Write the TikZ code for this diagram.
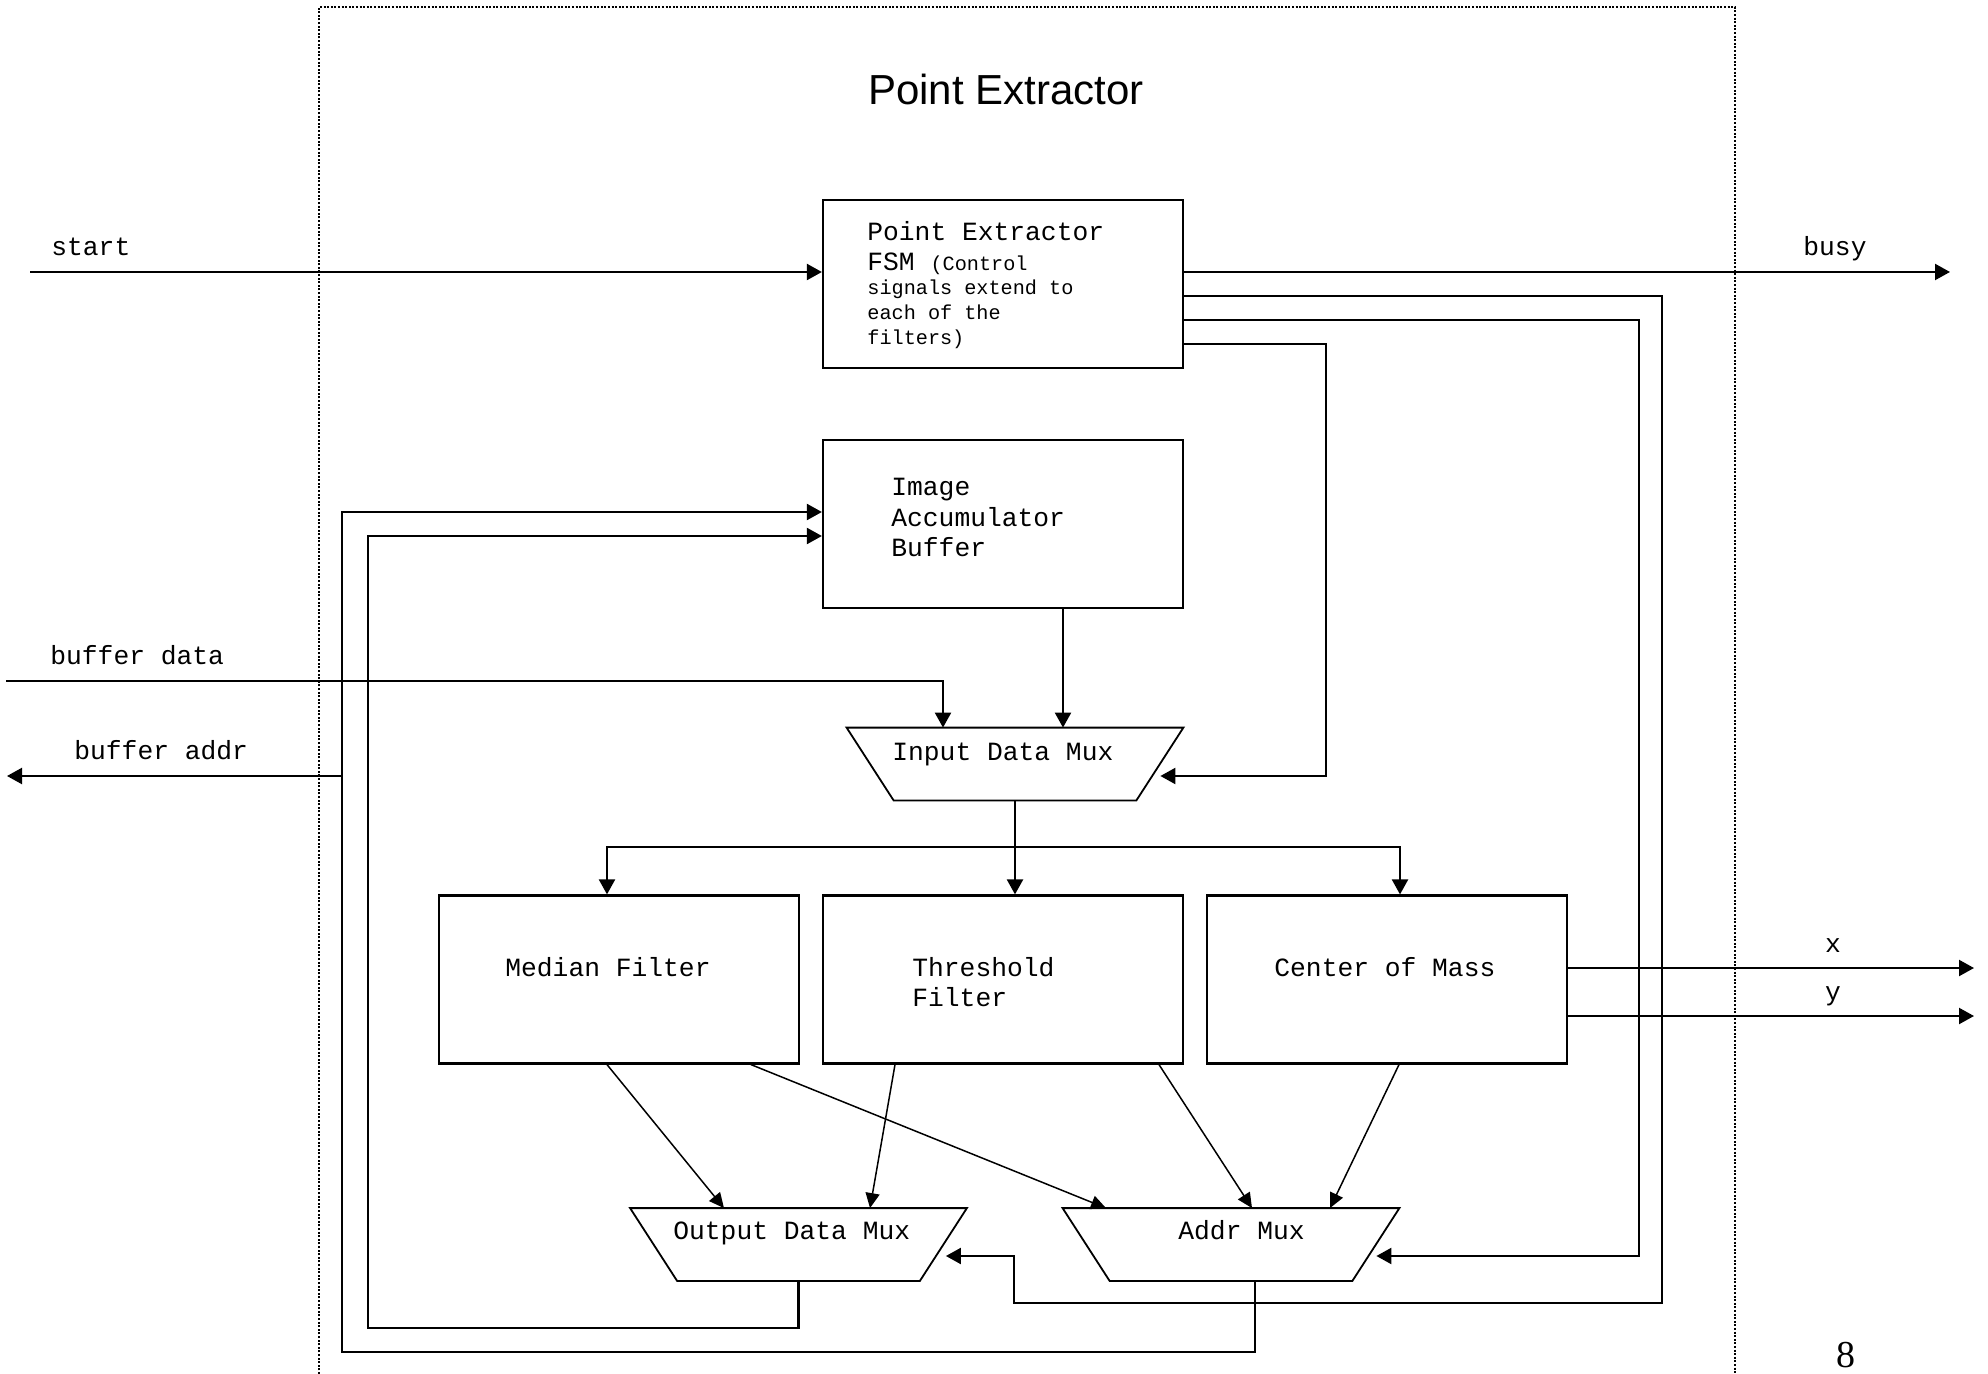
\documentclass[tikz,border=0pt]{standalone}
\usepackage{fontspec}
\setmainfont{Liberation Serif}
\newfontfamily\pxmono{Liberation Mono}
\newfontfamily\pxsans{Liberation Sans}
\newcommand\bigmono{\pxmono\fontsize{13.15pt}{15pt}\selectfont}
\newcommand\smallmono{\pxmono\fontsize{10.1pt}{12pt}\selectfont}
\usetikzlibrary{arrows.meta,calc}
\begin{document}
\begin{tikzpicture}[x=0.5pt,y=-0.5pt,
  blk/.style={draw, line width=1.1pt, minimum width=180pt, minimum height=84pt, inner sep=0pt},
  muxbox/.style={minimum width=168pt, minimum height=36pt, inner sep=0pt},
  muxline/.style={line width=0.9pt, line join=miter},
  wire/.style={line width=1.1pt},
  arr/.style={wire, -{Triangle[length=7.5pt,width=8pt]}},
  darr/.style={line width=0.75pt, -{Triangle[length=7.5pt,width=7pt]}},
  lbl/.style={anchor=base west, inner sep=0pt, font=\bigmono},
  slbl/.style={anchor=base west, inner sep=0pt, font=\smallmono},
  frame/.style={line width=1pt, dash pattern=on 1pt off 0.8pt}
]
\useasboundingbox (0,0) rectangle (1988,1374);
\fill[white] (0,0) rectangle (1988,1374);

% dotted frame
\draw[frame] (319,1374) -- (319,7) -- (1735,7) -- (1735,1374);

% title
\node[anchor=base, inner sep=0pt, font=\pxsans\fontsize{21pt}{25pt}\selectfont] (title) at (1006,105) {Point Extractor};

% boxes
\node[blk] (fsm) at (1003,284) {};
\node[blk] (iab) at (1003,524) {};
\node[blk] (med) at (619,979.5) {};
\node[blk] (thr) at (1003,979.5) {};
\node[blk] (com) at (1387,979.5) {};

% muxes
\node[muxbox] (inmux) at (1015,764) {};
\node[muxbox] (omux) at (798.5,1244.5) {};
\node[muxbox] (amux) at (1231,1244.5) {};
\foreach \m in {inmux,omux,amux}{
  \draw[muxline] (\m.north west) -- (\m.north east) -- ($(\m.south east)+(-47,0)$) -- ($(\m.south west)+(47,0)$) -- cycle;
}

% texts
\node[lbl] (f1) at (867,241) {Point Extractor};
\node[lbl] (f2) at (867,271) {FSM {\smallmono (Control}};
\node[slbl] (f3) at (867,295) {signals extend to};
\node[slbl] (f4) at (867,320) {each of the};
\node[slbl] (f5) at (867,345) {filters)};

\node[lbl] (i1) at (891,496) {Image};
\node[lbl] (i2) at (891,527) {Accumulator};
\node[lbl] (i3) at (891,557) {Buffer};

\node[lbl] (inmuxt) at (892,760) {Input Data Mux};
\node[lbl] (medt) at (505,976) {Median Filter};
\node[lbl] (thrt1) at (912,976) {Threshold};
\node[lbl] (thrt2) at (912,1006) {Filter};
\node[lbl] (comt) at (1274,976) {Center of Mass};
\node[lbl] (omuxt) at (673,1239) {Output Data Mux};
\node[lbl] (amuxt) at (1178,1239) {Addr Mux};

\node[lbl] (startt) at (51,256) {start};
\node[lbl] (busyt) at (1803,256) {busy};
\node[lbl] (bdatat) at (50,664) {buffer data};
\node[lbl] (baddrt) at (74,759) {buffer addr};
\node[anchor=base, inner sep=0pt, font=\bigmono] (xt) at (1833,952) {x};
\node[anchor=base, inner sep=0pt, font=\bigmono] (yt) at (1833,1000) {y};

\node[anchor=base, inner sep=0pt, font=\fontsize{19pt}{22pt}\selectfont] (pg) at (1846,1367) {8};

% external signals
\coordinate (startc) at (30,272);
\coordinate (busyc) at (1950,272);
\coordinate (bdatac) at (6,681);
\coordinate (baddrc) at (7,776);
\coordinate (xc) at (1974,968);
\coordinate (yc) at (1974,1016);

\draw[arr] (startc) -- (startc -| fsm.west);
\draw[arr] (busyc -| fsm.east) -- (busyc);
\draw[arr] (bdatac) -- (943,681) -- (inmux.north -| 943,681);
\draw[arr] (xc -| com.east) -- (xc);
\draw[arr] (yc -| com.east) -- (yc);

% FSM control lines
\draw[arr] (fsm.east |- 0,296) -- (1662,296) -- (1662,1303) -- (1014,1303) -- (1014,1256) -- ($(omux.east)+(-21,11.5)$);
\draw[arr] (fsm.east |- 0,320) -- (1639,320) -- (1639,1256) -- ($(amux.east)+(-23,11.5)$);
\draw[arr] (fsm.east |- 0,344) -- (1326,344) -- (1326,776) -- ($(inmux.east)+(-23,12)$);

% buffer to input mux
\draw[arr] ($(iab.south)+(60,0)$) -- ($(inmux.north)+(48,0)$);

% input mux distribution
\draw[wire] (inmux.south) -- (1015,847);
\draw[arr] (1015,847) -- (607,847) -- (med.north -| 607,847);
\draw[arr] (1015,847) -- (1400,847) -- (com.north -| 1400,847);
\draw[arr] (1015,847) -- (thr.north -| 1015,847);

% filters to muxes
\draw[darr] (med.south -| 607,0) -- (omux.north -| 724,0);
\draw[darr] (med.south -| 751,0) -- (amux.north -| 1106,0);
\draw[darr] (thr.south -| 895,0) -- (omux.north -| 870,0);
\draw[darr] (thr.south -| 1159,0) -- (amux.north -| 1252,0);
\draw[darr] (com.south -| 1399,0) -- (amux.north -| 1330,0);

% feedback to buffer
\draw[arr] ($(amux.south)+(24,0)$) -- (1255,1352) -- (342,1352) -- (342,512) -- (iab.west |- 0,512);
\draw[arr] (342,776) -- (baddrc);
\draw[arr] (omux.south) -- (798.5,1328) -- (368,1328) -- (368,536) -- (iab.west |- 0,536);
\end{tikzpicture}
\end{document}
